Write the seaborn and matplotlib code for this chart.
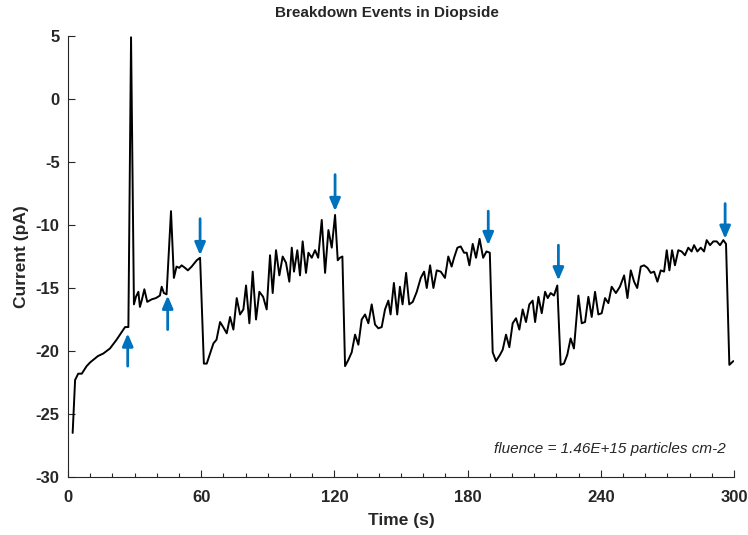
import matplotlib
matplotlib.use("Agg")
import matplotlib.pyplot as plt
import numpy as np
import pandas as pd
import seaborn as sns

# --- data ------------------------------------------------------------------
time_s = [
    2.1, 3.2, 4.6, 6.2, 8.4, 10.0, 11.4, 13.5, 15.9, 18.9, 21.9, 24.2, 25.7,
    27.2, 28.4,
    29.7, 30.6, 31.7, 32.4, 33.2, 34.4, 35.7, 37.7, 39.6, 41.4, 42.2, 43.2,
    44.4, 46.4, 47.7, 48.9, 50.1, 51.2, 52.7, 54.0, 55.7, 58.0, 59.5,
    61.2, 62.5, 64.0, 65.5, 66.9, 68.5, 69.9, 71.5, 73.0, 74.5, 76.0, 77.5,
    79.0, 80.2, 81.7, 83.2, 84.7, 86.2, 87.9, 89.5, 91.0, 92.2, 93.7, 95.2,
    96.7, 98.2, 99.7, 100.8, 101.8, 103.3, 104.5, 105.7, 107.2, 108.3, 109.8,
    111.3, 112.7, 114.3, 115.8, 117.3, 118.8, 120.3, 121.5, 122.5, 123.6,
    124.8, 126.3, 127.8, 129.3, 130.8, 132.3, 133.8, 135.3, 136.8, 138.3,
    139.8, 141.3, 142.8, 144.3, 145.3, 146.8, 148.3, 149.5, 150.7, 152.3,
    153.7, 155.3, 157.1, 158.9, 160.4, 161.6, 163.1, 164.6, 166.1, 167.9,
    169.8, 171.3, 172.8, 173.9, 175.4, 176.9, 178.4, 179.6, 180.8, 182.3,
    183.8, 185.4, 187.0, 188.5, 190.0, 191.3, 192.8, 194.6, 195.8, 197.3,
    198.8, 200.3, 201.8, 203.3, 204.8, 206.3, 207.8, 209.3, 210.4, 211.9,
    213.4, 214.9, 216.1, 217.4, 218.9, 220.4, 221.9, 223.4, 224.9, 226.4,
    227.9, 229.9, 231.4, 232.9, 234.4, 235.9, 237.4, 238.9, 240.4, 241.9,
    243.4, 244.9, 246.8, 248.6, 250.5, 252.0, 253.5, 255.0, 256.4, 258.0,
    259.5, 261.0, 262.5, 264.0, 265.5, 267.0, 268.5, 269.7, 270.9, 272.1,
    273.4, 274.9, 276.4, 277.9, 279.4, 280.9, 282.0, 283.5, 285.0, 286.5,
    287.7, 289.2, 290.7, 292.2, 293.7, 295.2, 296.4, 297.9, 299.7,
]
current_pa = [
    -26.5, -22.3, -21.8, -21.8, -21.2, -20.9, -20.7, -20.4, -20.2, -19.8,
    -19.1, -18.5, -18.1, -18.1, 4.9,
    -16.3, -15.7, -15.3, -16.5, -16.0, -15.1, -16.1, -15.9, -15.8, -15.6,
    -14.9, -15.4, -15.5, -8.9, -14.2, -13.3, -13.4, -13.2, -13.4, -13.6,
    -13.3, -12.8, -12.6,
    -21.0, -21.0, -20.2, -19.4, -19.1, -17.7, -18.1, -18.6, -17.3, -18.3,
    -15.8, -17.1, -16.7, -14.8, -17.8, -13.7, -17.5, -15.3, -15.7, -16.7,
    -12.4, -15.4, -12.0, -14.0, -12.5, -13.0, -14.5, -11.8, -13.7, -12.0,
    -14.0, -11.3, -13.8, -12.2, -12.6, -12.0, -12.6, -9.6, -13.8, -10.4,
    -11.8, -9.2, -12.8, -12.6, -12.5,
    -21.2, -20.7, -20.1, -18.7, -19.5, -17.5, -17.1, -17.8, -16.3, -17.9,
    -18.2, -18.1, -16.7, -16.0, -17.1, -14.6, -17.1, -14.9, -16.3, -13.8,
    -16.3, -16.1, -15.3, -14.2, -13.7, -15.0, -13.2, -15.0, -13.6, -13.7,
    -14.2, -12.5, -13.3, -12.6, -11.8, -11.7, -12.2, -12.2, -13.2, -11.5,
    -12.6, -11.1, -12.6, -12.1, -12.2,
    -20.1, -20.8, -20.3, -19.9, -18.7, -19.7, -17.8, -17.4, -18.3, -16.7,
    -17.7, -16.3, -16.0, -17.7, -15.7, -17.0, -15.3, -15.8, -15.4, -15.6,
    -14.8,
    -21.1, -21.0, -20.3, -19.0, -19.8, -15.6, -17.8, -17.7, -15.7, -17.3,
    -15.3, -17.1, -17.0, -15.8, -16.2, -14.9, -15.4, -14.9, -14.0, -15.8,
    -13.6, -14.5, -15.0, -13.3, -13.2, -13.4, -13.8, -13.7, -14.5, -13.6,
    -13.7, -12.0, -13.6, -12.0, -13.2, -12.0, -12.1, -12.4, -11.8, -12.1,
    -11.6, -12.1, -11.8, -12.1, -11.2, -11.6, -11.3, -11.3, -11.6, -11.2,
    -11.5, -21.1, -20.8,
]

# breakdown markers: x position, tail and tip of each arrow
arrow_t = [26.9, 44.9, 59.5, 120.3, 189.3, 220.9, 296.0]
arrow_tail = [-21.2, -18.3, -9.5, -6.0, -8.9, -11.6, -8.3]
arrow_tip = [-18.6, -15.6, -12.4, -8.9, -11.6, -14.4, -11.1]

x_ticks = [0, 60, 120, 180, 240, 300]
y_ticks = [-30, -25, -20, -15, -10, -5, 0, 5]

df = pd.DataFrame({"time": time_s, "current": current_pa})

# --- styling -----------------------------------------------------------------
sns.set_style("ticks")
plt.rcParams["font.family"] = ["Liberation Sans", "DejaVu Sans"]
plt.rcParams["axes.unicode_minus"] = False
plt.rcParams["xtick.direction"] = "in"
plt.rcParams["ytick.direction"] = "in"

fig = plt.figure(figsize=(7.48, 5.35), dpi=100)
ax = fig.add_axes([0.0909, 0.1084, 0.8904, 0.8243])

sns.lineplot(data=df, x="time", y="current", color="black", linewidth=1.4,
             ax=ax, legend=False)

for t, y0, y1 in zip(arrow_t, arrow_tail, arrow_tip):
    ax.annotate("", xy=(t, y1), xytext=(t, y0),
                arrowprops=dict(arrowstyle="-|>,head_length=0.75,head_width=0.32",
                                color="#0072BD", lw=2.0, shrinkA=0, shrinkB=0))

ax.set_xlim(0, 300)
ax.set_ylim(-30, 5)
ax.set_xticks(x_ticks)
ax.set_yticks(y_ticks)
ax.set_xticks(np.arange(0, 301, 10), minor=True)
ax.tick_params(axis="x", which="major", length=5, width=0.8, pad=9)
ax.tick_params(axis="y", which="major", length=5, width=0.8, pad=6)
ax.tick_params(axis="x", which="minor", length=3, width=0.8)
for lab in ax.get_xticklabels() + ax.get_yticklabels():
    lab.set_fontweight("bold")
    lab.set_fontsize(12)

ax.set_xlabel("Time (s)", fontsize=12.5, fontweight="bold", labelpad=6)
ax.set_ylabel("Current (pA)", fontsize=12.5, fontweight="bold", labelpad=5)
ax.set_title("Breakdown Events in Diopside", fontsize=11, fontweight="bold",
             x=0.479, pad=14)

ax.text(0.988, 0.047, "fluence = 1.46E+15 particles cm-2", transform=ax.transAxes,
        ha="right", va="bottom", fontsize=11, style="italic")

sns.despine(ax=ax)
for s in ["left", "bottom"]:
    ax.spines[s].set_linewidth(0.8)

fig.savefig("out.png", dpi=100)
